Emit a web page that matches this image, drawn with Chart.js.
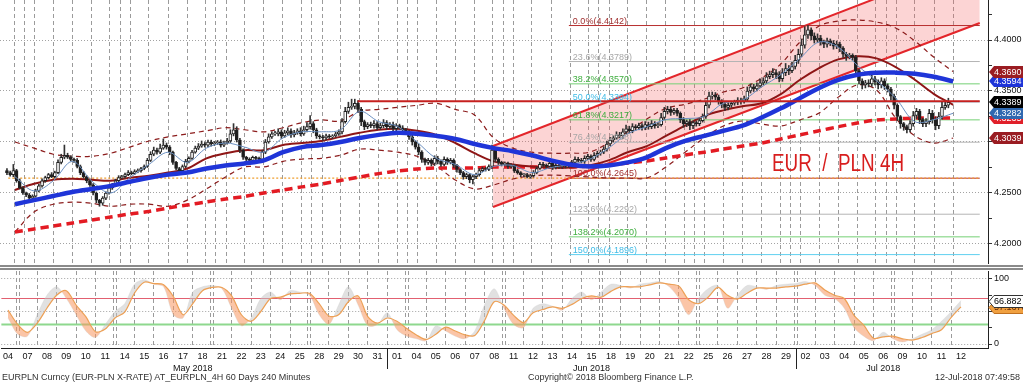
<!DOCTYPE html>
<html>
<head>
<meta charset="utf-8">
<script src="https://cdn.jsdelivr.net/npm/chart.js@4/dist/chart.umd.min.js"></script>
<style>
  html, body { margin:0; padding:0; background:#fff; }
  body { width:1023px; height:384px; position:relative; overflow:hidden; }
  canvas { position:absolute; left:0; }
  #cMain { top:0; }
  #cStoch { top:271px; }
  #sep { position:absolute; left:0; top:265px; width:1023px; height:1px; border-top:2px solid #8a8a8a; border-bottom:2px solid #8a8a8a; }
  .foot { position:absolute; top:372px; font:9px "Liberation Sans", sans-serif; color:#333; white-space:nowrap; }
  #title { position:absolute; left:772px; top:150px; color:#d81e1e; font:23px "Liberation Sans", sans-serif; white-space:pre; transform:scaleX(0.82); transform-origin:left top; }
</style>
</head>
<body>
<canvas id="cMain" width="1023" height="264"></canvas>
<div id="sep"></div>
<canvas id="cStoch" width="1023" height="105"></canvas>
<div class="foot" style="left:2px">EURPLN Curncy (EUR-PLN X-RATE) AT_EURPLN_4H 60 Days 240 Minutes</div>
<div class="foot" style="left:528px">Copyright© 2018 Bloomberg Finance L.P.</div>
<div class="foot" style="right:3px">12-Jul-2018 07:49:58</div>
<div id="title">EUR  /  PLN 4H</div>
<script>
Chart.defaults.font.family = '"Liberation Sans", "DejaVu Sans", sans-serif';
Chart.defaults.color = '#111';

// ---------------- DATA ----------------
const dayLabels = ['04','07','08','09','10','11','14','15','16','17','18','21','22','23','24','25','28','29','30','31',
  '01','04','05','06','07','08','11','12','13','14','15','18','19','20','21','22','25','26','27','28','29',
  '02','03','04','05','06','09','10','11','12'];
const monthNames = ['May 2018','Jun 2018','Jul 2018'];

const firstOpen = 4.2720;
// 4H closes, 6 bars per trading day
const closes = [
  4.270,4.268,4.272,4.262,4.255,4.250,
  4.248,4.245,4.247,4.252,4.257,4.262,
  4.265,4.268,4.266,4.270,4.280,4.285,
  4.287,4.285,4.283,4.282,4.276,4.270,
  4.266,4.262,4.258,4.250,4.243,4.240,
  4.245,4.250,4.255,4.258,4.262,4.265,
  4.266,4.268,4.270,4.269,4.271,4.272,
  4.274,4.276,4.282,4.288,4.292,4.290,
  4.294,4.297,4.295,4.290,4.280,4.274,
  4.272,4.276,4.281,4.284,4.290,4.294,
  4.296,4.298,4.297,4.300,4.298,4.299,
  4.300,4.297,4.299,4.301,4.308,4.312,
  4.302,4.292,4.285,4.283,4.282,4.285,
  4.284,4.283,4.290,4.300,4.305,4.308,
  4.308,4.310,4.306,4.309,4.311,4.307,
  4.309,4.311,4.308,4.312,4.315,4.318,
  4.312,4.306,4.305,4.304,4.306,4.305,
  4.306,4.308,4.310,4.320,4.330,4.334,
  4.335,4.338,4.332,4.320,4.315,4.317,
  4.316,4.318,4.314,4.316,4.319,4.315,
  4.317,4.313,4.316,4.314,4.312,4.310,
  4.305,4.300,4.295,4.290,4.283,4.280,
  4.282,4.279,4.284,4.281,4.278,4.283,
  4.280,4.282,4.277,4.273,4.270,4.266,
  4.268,4.263,4.266,4.268,4.272,4.274,
  4.273,4.276,4.292,4.283,4.280,4.278,
  4.279,4.276,4.277,4.272,4.270,4.268,
  4.268,4.266,4.267,4.270,4.274,4.278,
  4.277,4.276,4.279,4.275,4.277,4.276,
  4.276,4.278,4.277,4.280,4.283,4.282,
  4.281,4.284,4.286,4.283,4.287,4.289,
  4.290,4.293,4.298,4.302,4.304,4.307,
  4.306,4.310,4.313,4.311,4.315,4.314,
  4.316,4.314,4.317,4.315,4.318,4.316,
  4.317,4.324,4.330,4.332,4.329,4.331,
  4.328,4.322,4.318,4.320,4.316,4.319,
  4.318,4.321,4.325,4.336,4.345,4.346,
  4.344,4.340,4.337,4.334,4.336,4.338,
  4.339,4.341,4.340,4.342,4.350,4.354,
  4.352,4.355,4.358,4.360,4.364,4.366,
  4.368,4.366,4.362,4.368,4.372,4.370,
  4.374,4.380,4.386,4.395,4.405,4.410,
  4.404,4.400,4.402,4.398,4.396,4.399,
  4.397,4.394,4.396,4.392,4.386,4.384,
  4.385,4.383,4.370,4.360,4.356,4.358,
  4.357,4.362,4.359,4.356,4.360,4.355,
  4.352,4.345,4.336,4.325,4.318,4.315,
  4.312,4.318,4.326,4.330,4.322,4.318,
  4.320,4.328,4.322,4.316,4.325,4.334,
  4.336,4.3389
];
// upper / lower shadow beyond the body, in 1/10000
const wickUp = [
  20,15,60,12,18,10, 10,15,12,18,14,20, 15,12,20,14,25,30, 100,20,15,12,18,14, 12,10,15,12,10,8,
  15,12,18,14,16,20, 12,15,20,14,18,16, 12,15,20,25,30,20, 40,60,20,15,12,10, 12,15,20,14,18,20,
  25,30,15,20,18,15, 15,20,18,25,40,60, 30,15,12,10,15,12, 10,12,20,25,30,20, 25,30,20,25,30,20,
  25,20,30,35,40,80, 20,15,12,15,18,14, 12,15,20,30,40,50, 70,40,25,20,15,20, 25,30,20,25,30,20,
  20,25,20,15,20,15, 15,20,15,30,15,12, 20,15,25,20,15,25, 15,20,15,12,10,12, 15,10,12,15,20,15,
  12,15,50,20,15,12, 15,12,15,10,12,10, 10,12,15,20,15,20, 20,15,20,15,20,15, 15,20,15,20,25,20,
  20,25,20,15,25,20, 20,25,30,25,20,30, 25,30,35,25,30,20, 25,20,30,25,30,20, 20,40,40,30,25,20,
  20,15,20,15,20,15, 15,20,25,40,40,30, 25,20,15,20,25,20, 20,25,20,30,40,30, 25,30,40,30,40,35,
  40,30,30,40,50,30, 40,50,50,60,80,42, 20,30,40,25,20,30, 20,25,30,20,15,20, 20,15,20,15,20,25,
  30,40,25,20,30,20, 20,15,20,15,10,12, 15,30,40,30,20,15, 30,40,30,25,40,50, 30,40
];
const wickDn = [
  20,15,20,15,10,15, 15,12,10,12,10,12, 15,12,10,12,10,15, 15,12,15,20,15,20, 15,20,15,20,25,30,
  20,15,12,15,12,10, 12,15,10,12,10,12, 15,12,10,12,15,20, 15,12,20,25,20,15, 20,15,12,15,12,10,
  15,12,20,15,20,15, 15,20,15,12,15,20, 20,25,20,20,25,15, 20,15,12,15,12,15, 15,20,25,15,20,25,
  20,15,20,15,20,25, 30,25,20,25,20,15, 15,12,15,20,15,20, 20,25,30,40,30,20, 20,25,20,15,20,25,
  20,25,20,15,20,25, 25,30,20,25,30,25, 20,25,20,25,20,15, 20,15,20,25,20,25, 20,30,40,20,15,12,
  15,12,20,25,20,15, 15,20,15,20,15,20, 20,12,15,15,12,10, 15,20,15,20,15,20, 20,15,20,15,20,15,
  15,20,15,20,15,20, 20,15,20,15,20,15, 20,25,20,25,20,25, 20,25,20,25,20,25, 20,15,20,25,30,20,
  25,30,35,30,40,30, 25,20,15,20,25,30, 25,30,35,30,25,20, 20,25,30,20,15,20, 25,20,15,20,25,20,
  30,40,30,25,30,40, 20,25,30,25,30,35, 40,30,25,30,35,30, 25,30,25,35,30,40, 25,30,40,30,40,30,
  30,25,30,40,30,35, 30,40,35,40,45,35, 30,20,25,30,40,30, 30,25,35,40,30,25, 20,25
];

// indicators, one value per trading day
const fastMA = [4.266,4.252,4.262,4.281,4.262,4.250,4.265,4.278,4.290,4.280, 4.294,4.299,4.295,4.290,4.304,4.310,4.310,4.312,4.330,4.320,
  4.315,4.300,4.284,4.278,4.268,4.276,4.277,4.270,4.275,4.278, 4.283,4.294,4.308,4.315,4.322,4.323,4.325,4.338,4.341,4.354,
  4.366,4.382,4.398,4.393,4.375,4.360,4.343,4.320,4.322,4.3282];
const ma20 = [4.253,4.259,4.263,4.264,4.263,4.262,4.265,4.267,4.270,4.274, 4.284,4.289,4.292,4.292,4.297,4.299,4.301,4.305,4.309,4.312,
  4.313,4.311,4.307,4.299,4.289,4.281,4.278,4.276,4.275,4.275, 4.277,4.282,4.290,4.296,4.306,4.316,4.3255,4.331,4.335,4.338,
  4.347,4.361,4.3725,4.381,4.384,4.382,4.3735,4.361,4.347,4.3365];
const ma50 = [4.239,4.243,4.247,4.251,4.254,4.257,4.261,4.265,4.268,4.270, 4.274,4.277,4.279,4.282,4.290,4.295,4.297,4.300,4.304,4.307,
  4.309,4.308,4.306,4.303,4.298,4.294,4.291,4.287,4.282,4.278, 4.276,4.277,4.280,4.285,4.294,4.301,4.306,4.311,4.316,4.324,
  4.333,4.343,4.353,4.361,4.366,4.368,4.368,4.367,4.364,4.3594];
const ma200 = [4.2118,4.2147,4.2176,4.2206,4.2235,4.2265,4.2294,4.2319,4.2353,4.2382, 4.2412,4.2441,4.2466,4.2500,4.2530,4.2560,4.2588,4.2623,4.2657,4.2690,
  4.2716,4.2735,4.2745,4.2745,4.2745,4.2755,4.2755,4.2755,4.2755,4.2755, 4.2765,4.2775,4.2794,4.2814,4.2843,4.2873,4.2900,4.2930,4.2960,4.2990,
  4.3030,4.3070,4.3110,4.3150,4.3186,4.3216,4.3226,4.3235,4.3235,4.3235];
const bbUpper = [4.300,4.294,4.288,4.286,4.286,4.289,4.295,4.301,4.305,4.308, 4.311,4.314,4.312,4.310,4.314,4.319,4.3216,4.3206,4.330,4.332,
  4.334,4.336,4.338,4.332,4.3265,4.304,4.294,4.290,4.289,4.289, 4.290,4.299,4.310,4.3225,4.333,4.337,4.342,4.349,4.353,4.3627,
  4.3765,4.398,4.4137,4.4186,4.4196,4.4176,4.4118,4.399,4.383,4.3690];
const bbLower = [4.2118,4.2314,4.239,4.241,4.240,4.237,4.239,4.239,4.237,4.243, 4.254,4.2657,4.2755,4.2755,4.281,4.2833,4.284,4.287,4.293,4.292,
  4.290,4.286,4.2765,4.2627,4.254,4.2578,4.2637,4.2667,4.2676,4.2667, 4.2657,4.2647,4.2647,4.2647,4.2755,4.290,4.304,4.3157,4.3206,4.3176,
  4.3157,4.3216,4.3284,4.344,4.3559,4.351,4.3235,4.306,4.299,4.3039];

// Fibonacci retracement (0% = 4.4142 high, 100% = 4.2645 low)
const fibPct = ['0.0','23.6','38.2','50.0','61.8','76.4','100.0','123.6','138.2','150.0'];
const fibValues = [4.4142,4.3789,4.3570,4.3394,4.3217,4.2998,4.2645,4.2292,4.2070,4.1896];
const fibStartDay = 28.93;

// rising channel (day position, price)
const channelDays = [24.97, 50.39];
const channelUpper = [4.2961, 4.4800];
const channelLower = [4.2363, 4.4167];
const resistanceLevel = 4.3400;
const resistanceStartDay = 17.9;

// stochastic, two samples per trading day
const stochK = [40,15,12,45,75,88,70,45,20,10, 30,50,62,92,99,92,88,45,40,80, 88,90,85,55,28,40,70,80,68,82,
  80,75,45,30,60,88,60,28,30,48, 22,12,8,5,28,20,12,8,20,60, 85,55,30,25,55,62,58,52,70,80,
  68,80,92,90,86,92,94,96,88,70, 45,70,85,90,55,75,90,88,84,90, 92,93,96,90,75,70,55,25,12,5,
  18,8,3,8,15,22,35,50,66.882];
const stochD = [52,30,18,32,55,75,82,60,42,19, 23,40,49,78,95,93,91,73,45,62, 82,87,87,74,45,35,50,70,72,77,
  78,78,62,43,45,65,74,42,32,40, 35,24,14,7,15,26,20,14,13,36, 65,60,44,33,48,53,57,55,61,70,
  74,72,81,88,88,88,91,94,92,89, 68,62,72,87,75,69,78,86,86,86, 88,89,92,94,83,75,70,44,29,9,
  11,12,8,6,10,16,22,41,57.1673];
const stochLevels = [70, 30];

const priceTicks = [4.200,4.225,4.250,4.275,4.300,4.325,4.350,4.375,4.400,4.425];
const stochTicks = [0,25,50,75,100];

// ---------------- LAYOUT / DERIVED ----------------
const X_MIN = -0.35, X_MAX = 50.39;
const Y_MIN = 4.18038, Y_MAX = 4.43922;
const S_MIN = -6.15, S_MAX = 112.3;

const monthOfDay = []; { let m = 0; dayLabels.forEach((l,i)=>{ if (i>0 && +l < +dayLabels[i-1]) m++; monthOfDay.push(m); }); }
const dates = dayLabels.map((l,i)=> new Date(2018, 4+monthOfDay[i], +l));
const gridTicks = [-0.5];
const monthBounds = [];
for (let d=0; d<dayLabels.length-1; d++) {
  const b = d + 0.5;
  if (dates[d+1].getDay() === 1) { gridTicks.push(b-0.075, b+0.075); } else { gridTicks.push(b); }
  if (monthOfDay[d+1] !== monthOfDay[d]) monthBounds.push(b);
}
const monthCenters = monthNames.map((n,mi)=>{ const idx = dayLabels.map((_,i)=>i).filter(i=>monthOfDay[i]===mi); return (idx[0]+idx[idx.length-1])/2; });

const bodies = [], wicks = [], bodyColors = [];
{ let prev = firstOpen;
  closes.forEach((c,i)=>{
    const d = Math.floor(i/6), k = i%6, x = d + (k-2.5)/6, o = prev;
    const hi = Math.max(o,c) + wickUp[i]/10000, lo = Math.min(o,c) - wickDn[i]/10000;
    bodies.push({x, y:[o,c]}); wicks.push({x, y:[lo,hi]});
    bodyColors.push(c >= o ? '#ffffff' : '#1e1e1e');
    prev = c;
  });
}
const daily = arr => arr.map((v,d)=>({x:d, y:v}));
const halfDaily = arr => arr.map((v,i)=>({x:i/2, y:v}));
const hline = (v,x0,x1) => [{x:x0,y:v},{x:x1,y:v}];
const lineDs = (data, color, width, extra={}) => Object.assign({type:'line', data, borderColor:color, borderWidth:width, pointRadius:0, fill:false, tension:0}, extra);

const fibLineColors = ['#b83030','#b4b4b4','#74d074','#5fd0f0','#74d074','#b4b4b4','#b83030','#b4b4b4','#74d074','#5fd0f0'];
const fibTextColors = ['#a03030','#a8a8a8','#3fae3f','#3fbbe6','#3fae3f','#a8a8a8','#a03030','#a8a8a8','#3fae3f','#3fbbe6'];
const isMajorPrice = v => Math.round(v*1000) % 50 === 0;

function drawTag(ctx, left, py, text, bg, fg, border) {
  const h = 12, w = 35;
  ctx.beginPath();
  ctx.moveTo(left, py); ctx.lineTo(left+5, py-h/2); ctx.lineTo(left+w, py-h/2);
  ctx.lineTo(left+w, py+h/2); ctx.lineTo(left+5, py+h/2); ctx.closePath();
  ctx.fillStyle = bg; ctx.fill();
  if (border) { ctx.strokeStyle = border; ctx.lineWidth = 1; ctx.stroke(); }
  ctx.fillStyle = fg; ctx.font = '9px "Liberation Sans"'; ctx.textAlign = 'left'; ctx.textBaseline = 'middle';
  ctx.fillText(text, left+5, py+0.5);
}

const mainTags = [
  {v: bbLower[bbLower.length-1], bg:'#9a1c22', fg:'#fff'},
  {v: ma200[ma200.length-1], bg:'#e0202a', fg:'#fff'},
  {v: fastMA[fastMA.length-1], bg:'#2f68b0', fg:'#fff'},
  {v: closes[closes.length-1], bg:'#000000', fg:'#fff'},
  {v: ma50[ma50.length-1], bg:'#1f35d8', fg:'#fff'},
  {v: bbUpper[bbUpper.length-1], bg:'#9a1c22', fg:'#fff'}
];

const mainOverlay = {
  id: 'mainOverlay',
  afterDatasetsDraw(chart) {
    const {ctx, scales:{x, y}, chartArea} = chart;
    ctx.save();
    ctx.font = '9px "Liberation Sans"'; ctx.textAlign = 'left'; ctx.textBaseline = 'bottom';
    const x0 = x.getPixelForValue(fibStartDay) + 4;
    fibPct.forEach((p,i)=>{
      const py = y.getPixelForValue(fibValues[i]);
      if (py > chartArea.bottom) return;
      ctx.fillStyle = fibTextColors[i];
      ctx.fillText(p + '%(' + fibValues[i].toFixed(4) + ')', x0, py);
    });
    ctx.restore();
  },
  afterDraw(chart) {
    const {ctx, scales:{y}, chartArea} = chart;
    ctx.save();
    mainTags.forEach(t => drawTag(ctx, chartArea.right+1, Math.round(y.getPixelForValue(t.v)), t.v.toFixed(4), t.bg, t.fg));
    ctx.restore();
  }
};

new Chart(document.getElementById('cMain'), {
  type: 'line',
  data: { datasets: [
    lineDs(channelDays.map((d,i)=>({x:d,y:channelUpper[i]})), '#e3262b', 2, {fill:'+1', backgroundColor:'rgba(244,95,95,0.27)', order:100}),
    lineDs(channelDays.map((d,i)=>({x:d,y:channelLower[i]})), '#e3262b', 2, {order:99}),
    ...fibValues.map((v,i)=> lineDs(hline(v, fibStartDay, X_MAX), fibLineColors[i], 1, {order:90})),
    lineDs(hline(fibValues[6], X_MIN, X_MAX), '#f0a030', 1.2, {borderDash:[2,2], order:89}),
    lineDs(daily(bbUpper), '#8c1c1c', 1.2, {borderDash:[5,4], tension:0.35, order:60}),
    lineDs(daily(bbLower), '#8c1c1c', 1.2, {borderDash:[5,4], tension:0.35, order:60}),
    lineDs(daily(ma200), '#e31b23', 3.5, {borderDash:[8,5], tension:0.3, order:55}),
    lineDs(daily(ma20), '#8e1616', 2, {tension:0.35, order:50}),
    {type:'bar', data:wicks, backgroundColor:'#333333', barThickness:1, grouped:false, borderWidth:0, order:45},
    {type:'bar', data:bodies, backgroundColor:bodyColors, borderColor:'#222222', borderWidth:1, borderSkipped:false, barThickness:3, grouped:false, minBarLength:1, order:44},
    lineDs(daily(fastMA), '#6a8fc0', 1, {tension:0.35, order:40}),
    lineDs(daily(ma50), '#1f35d8', 4.5, {tension:0.35, order:30}),
    lineDs(hline(resistanceLevel, resistanceStartDay, X_MAX), '#c6201f', 2, {order:20})
  ]},
  options: {
    responsive:false, animation:false, devicePixelRatio:1,
    layout:{padding:0},
    plugins:{legend:{display:false}, tooltip:{enabled:false}},
    scales: {
      x: { type:'linear', position:'bottom', min:X_MIN, max:X_MAX,
           afterBuildTicks: s => { s.ticks = gridTicks.map(v=>({value:v})); },
           ticks:{display:false}, grid:{color:'#9b9b9b', lineWidth:1, drawTicks:false},
           border:{display:false, dash:[4,3]}, afterFit: s => { s.height = 0; } },
      y: { type:'linear', position:'right', min:Y_MIN, max:Y_MAX,
           afterBuildTicks: s => { s.ticks = priceTicks.map(v=>({value:v})); },
           ticks:{ callback: v => isMajorPrice(v) ? v.toFixed(4) : '', font:{size:9}, color:'#111', padding:2, autoSkip:false },
           grid:{ color: c => (c.tick && isMajorPrice(c.tick.value)) ? '#a3a3a3' : 'rgba(0,0,0,0)', tickColor:'#333', tickLength:4 },
           border:{display:true, color:'#222', width:1, dash:[1,2]},
           afterFit: s => { s.width = 35; s.paddingTop = 0; s.paddingBottom = 0; } }
    }
  },
  plugins:[mainOverlay]
});

const stochTags = [
  {v: stochD[stochD.length-1], bg:'#f0a040', fg:'#6a2a00', border:'#c07020'},
  {v: stochK[stochK.length-1], bg:'#ffffff', fg:'#000', border:'#333'}
];
const stochOverlay = {
  id:'stochOverlay',
  afterDraw(chart) {
    const {ctx, scales:{x, y}, chartArea} = chart;
    ctx.save();
    ctx.strokeStyle = '#222'; ctx.lineWidth = 1;
    monthBounds.forEach(b => {
      const px = Math.round(x.getPixelForValue(b)) + 0.5;
      ctx.beginPath(); ctx.moveTo(px, chartArea.bottom); ctx.lineTo(px, chartArea.bottom+21); ctx.stroke();
    });
    stochTags.forEach(t => drawTag(ctx, chartArea.right+1, Math.round(y.getPixelForValue(t.v))+0.5, String(t.v), t.bg, t.fg, t.border));
    ctx.restore();
  }
};

new Chart(document.getElementById('cStoch'), {
  type:'line',
  data:{ datasets:[
    lineDs(hline(stochLevels[0], X_MIN, X_MAX), '#e26070', 1.2, {order:20}),
    lineDs(hline(stochLevels[1], X_MIN, X_MAX), '#8ed88e', 2, {order:20}),
    lineDs(halfDaily(stochK), 'rgba(200,200,200,0.5)', 0.6, {fill:{target:3, above:'rgba(195,195,195,0.5)', below:'rgba(247,150,95,0.55)'}, tension:0.3, order:5}),
    lineDs(halfDaily(stochD), '#eda055', 1.2, {tension:0.3, order:1})
  ]},
  options:{
    responsive:false, animation:false, devicePixelRatio:1,
    layout:{padding:0},
    plugins:{legend:{display:false}, tooltip:{enabled:false}},
    scales:{
      x: { type:'linear', position:'bottom', weight:0, min:X_MIN, max:X_MAX,
           afterBuildTicks: s => { s.ticks = gridTicks.map(v=>({value:v})); },
           ticks:{display:false}, grid:{color:'#9b9b9b', lineWidth:1, drawTicks:false},
           border:{display:true, color:'#222', width:1, dash:[4,3]}, afterFit: s => { s.height = 0; } },
      xl: { type:'linear', position:'bottom', weight:1, min:X_MIN, max:X_MAX,
           afterBuildTicks: s => { s.ticks = dayLabels.map((l,i)=>({value:i})); },
           ticks:{ autoSkip:false, maxRotation:0, padding:3, font:{size:9}, color:'#111', callback: v => dayLabels[Math.round(v)] },
           grid:{display:false, drawTicks:false}, border:{display:false}, afterFit: s => { s.height = 14; } },
      xm: { type:'linear', position:'bottom', weight:2, min:X_MIN, max:X_MAX,
           afterBuildTicks: s => { s.ticks = monthCenters.map(v=>({value:v})); },
           ticks:{ autoSkip:false, maxRotation:0, padding:1, font:{size:9}, color:'#111', callback: (v,i) => monthNames[i] },
           grid:{display:false, drawTicks:false}, border:{display:false}, afterFit: s => { s.height = 14; } },
      y: { type:'linear', position:'right', min:S_MIN, max:S_MAX,
           afterBuildTicks: s => { s.ticks = stochTicks.map(v=>({value:v})); },
           ticks:{ callback: v => (v===0 || v===100) ? String(v) : '', font:{size:9}, color:'#111', padding:2, autoSkip:false },
           grid:{ color: c => (c.tick && c.tick.value % 50 === 0) ? '#a3a3a3' : 'rgba(0,0,0,0)', tickColor:'#333', tickLength:4 },
           border:{display:true, color:'#222', width:1, dash:[1,2]},
           afterFit: s => { s.width = 35; s.paddingTop = 0; s.paddingBottom = 0; } }
    }
  },
  plugins:[stochOverlay]
});
</script>
</body>
</html>
